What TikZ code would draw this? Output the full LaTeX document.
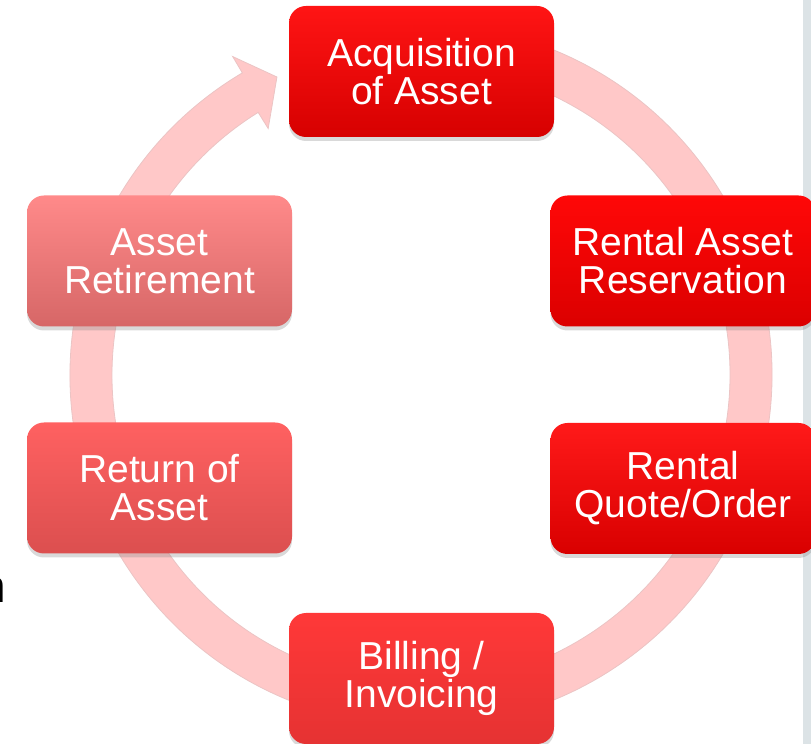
\documentclass[tikz,border=0pt]{standalone}
\usepackage{fontspec}
\setmainfont{Liberation Sans}
\usetikzlibrary{shadows}

\definecolor{ringpink}{HTML}{FFC8C8}
\definecolor{ringedge}{HTML}{EBC4C4}
\definecolor{sidegray}{HTML}{DCE3E6}

\begin{document}
\begin{tikzpicture}[x=1pt,y=1pt,
   stage/.style={rounded corners=17pt, minimum width=265pt, minimum height=131pt,
      text=white, align=center, font=\fontsize{39}{38}\selectfont,
      drop shadow={shadow xshift=0pt, shadow yshift=-4pt, opacity=0.3}},
   shade stage/.style 2 args={top color=#1, bottom color=#2}]

\useasboundingbox (0,0) rectangle (811,744);
\clip (0,0) rectangle (811,744);

% side strip and cut-off letter
\fill[sidegray] (803,0) rectangle (811,744);
\node[anchor=base east, inner sep=0pt, font=\fontsize{46}{46}\selectfont] (cutn) at (6.5,141) {n};

% cycle arrow
\begin{scope}[shift={(421,369)}]
\fill[ringpink, draw=ringedge, line width=0.8pt]
   (80:351) arc[start angle=80, end angle=-239.4, radius=351]
   -- (-239.4:370) -- (-244.2:331) -- (-238.2:290) -- (-238.2:309)
   arc[start angle=-238.2, end angle=80, radius=309] -- cycle;
\end{scope}

\node[stage, shade stage={red!92!white}{red!84!black}] (acq) at (421.5,672.5) {Acquisition\\of Asset};
\node[stage, shade stage={red!97!white}{red!86!black}] (resv) at (683,483) {Rental Asset\\Reservation};
\node[stage, shade stage={red!90!white}{red!85!black}] (quote) at (683,255.5) {Rental\\Quote/Order};
\node[stage, shade stage={red!78!white}{red!78!white!90!black}] (bill) at (421.5,65.5) {Billing /\\Invoicing};
\node[stage, shade stage={red!62!white}{red!64!white!86!black}] (ret) at (159.5,256) {Return of\\Asset};
\node[stage, shade stage={red!46!white}{red!52!white!84!black}] (retire) at (159.5,483) {Asset\\Retirement};

\end{tikzpicture}
\end{document}
